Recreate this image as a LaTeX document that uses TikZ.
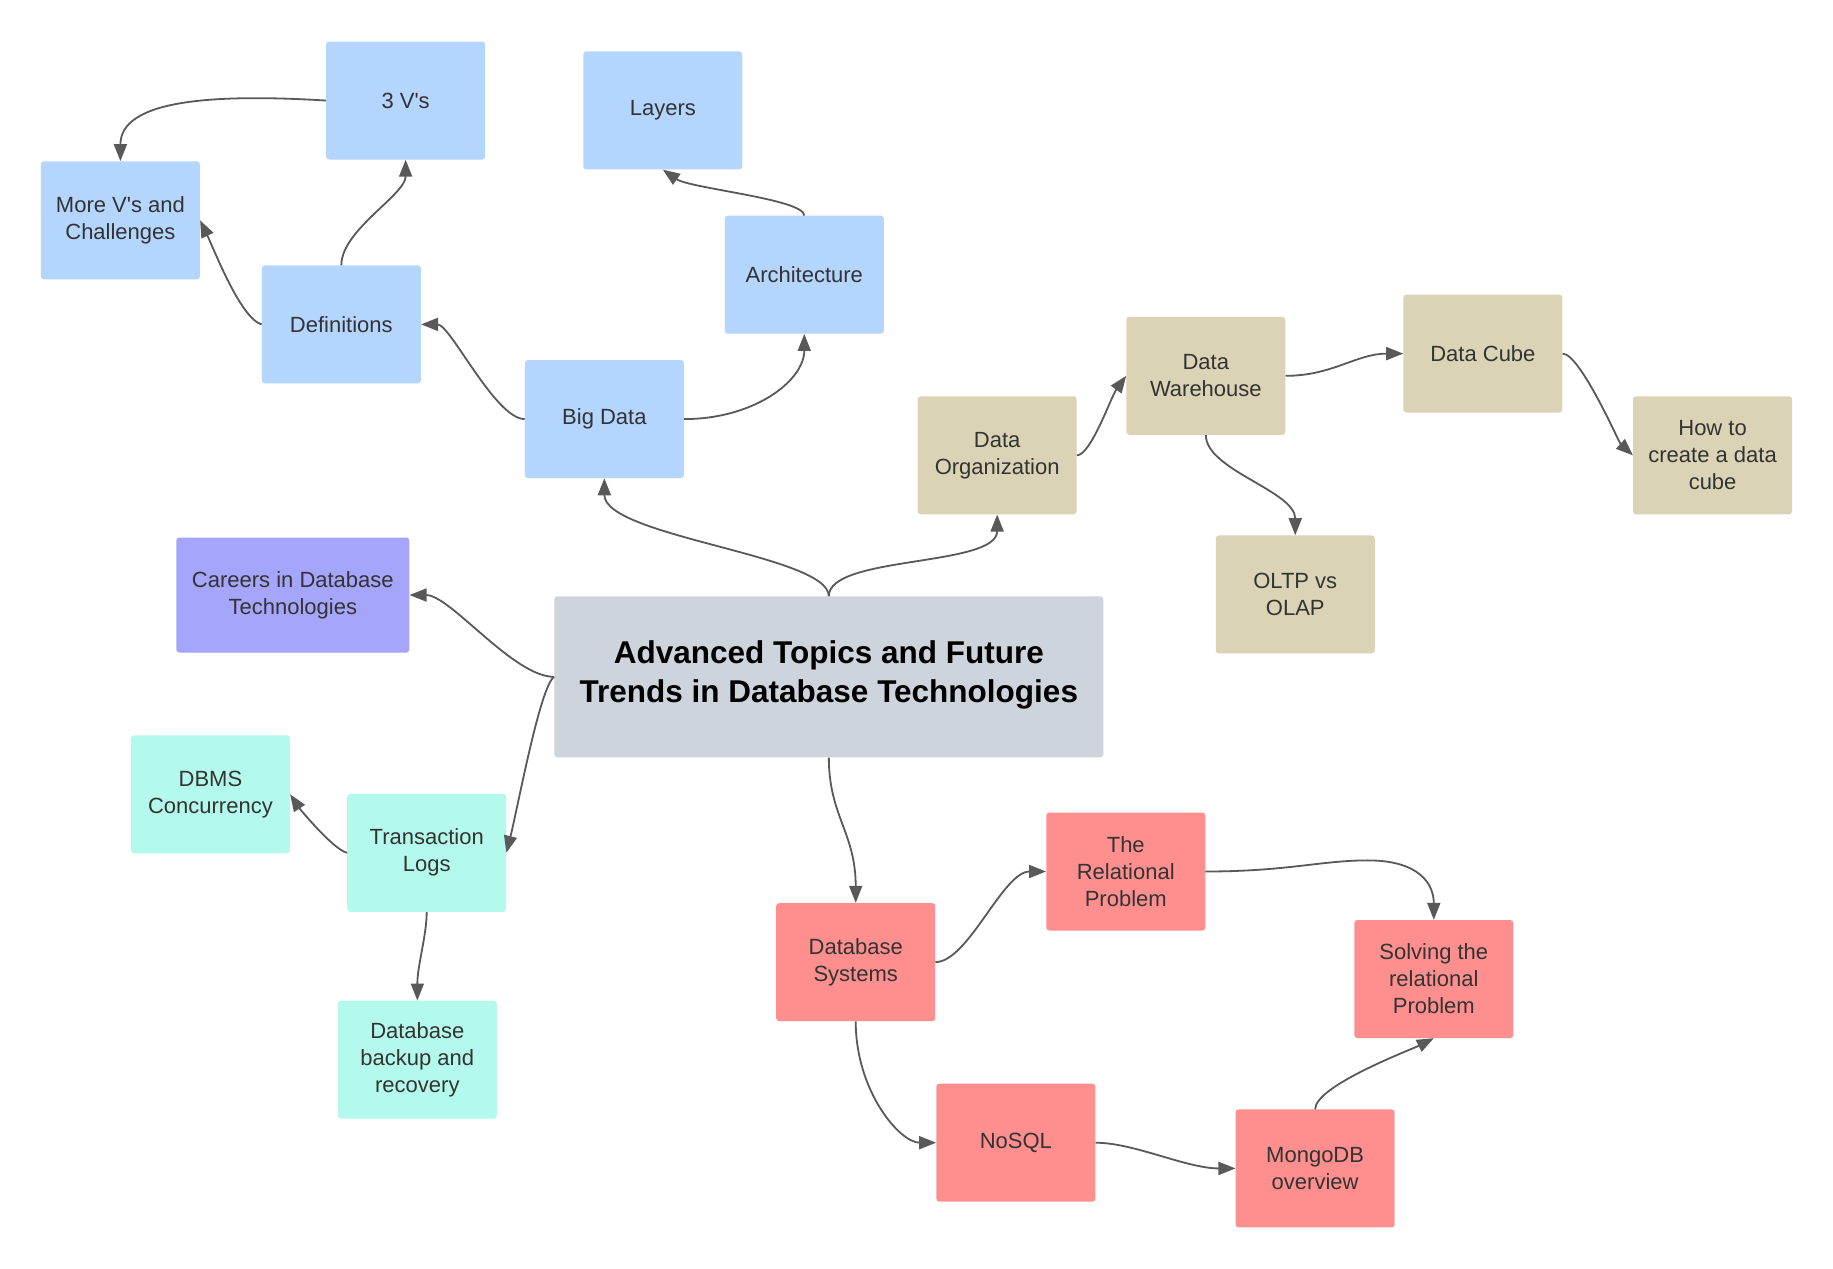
\documentclass[tikz,border=0pt]{standalone}
\usepackage{fontspec}
\setmainfont{Liberation Sans}
\usetikzlibrary{arrows.meta}
\definecolor{cblue}{HTML}{B4D5FE}
\definecolor{ctan}{HTML}{DAD3B5}
\definecolor{cpurple}{HTML}{A4A5FB}
\definecolor{cmint}{HTML}{B4FAEC}
\definecolor{cred}{HTML}{FF8F8F}
\definecolor{cgray}{HTML}{CED4DC}
\definecolor{textc}{HTML}{333333}
\definecolor{linec}{HTML}{595959}
\begin{document}
\begin{tikzpicture}[x=1.169pt,y=-1.169pt,
  box/.style={rounded corners=3pt, minimum width=159pt, minimum height=118pt, inner sep=0pt, align=center, text=textc, font=\fontsize{22}{27}\selectfont},
  conn/.style={draw=linec, line width=1.8pt, -{Triangle[length=17pt,width=13pt]}}]
\useasboundingbox (0,0) rectangle (1568,1085);
\fill[white] (0,0) rectangle (1568,1085);

\node[box, fill=cblue] (v3) at (347,86) {3 V\textquotesingle s};
\node[box, fill=cblue] (layers) at (567,94.5) {Layers};
\node[box, fill=cblue] (morev) at (103,188.5) {More V\textquotesingle s and\\Challenges};
\node[box, fill=cblue] (defs) at (292,277.5) {Definitions};
\node[box, fill=cblue] (arch) at (688,235) {Architecture};
\node[box, fill=cblue] (bigdata) at (517,358.5) {Big Data};
\node[box, fill=ctan] (dorg) at (853,389.5) {Data\\Organization};
\node[box, fill=ctan] (dw) at (1031.5,321.5) {Data\\Warehouse};
\node[box, fill=ctan] (cube) at (1268.5,302.5) {Data Cube};
\node[box, fill=ctan] (howto) at (1465,389.5) {How to\\create a data\\cube};
\node[box, fill=ctan] (oltp) at (1108,508.5) {OLTP vs\\OLAP};
\node[box, fill=cpurple, minimum width=233pt, minimum height=115pt] (careers) at (250.5,509) {Careers in Database\\Technologies};
\node[box, fill=cgray, minimum width=549pt, minimum height=161pt, text depth=11pt, text=black, font=\bfseries\fontsize{31.5}{38.6}\selectfont] (central) at (709,579) {Advanced Topics and Future\\Trends in Database Technologies};
\node[box, fill=cmint] (dbms) at (180,679.5) {DBMS\\Concurrency};
\node[box, fill=cmint] (tlogs) at (365,729.5) {Transaction\\Logs};
\node[box, fill=cmint] (backup) at (357,906.5) {Database\\backup and\\recovery};
\node[box, fill=cred] (dbsys) at (732,823) {Database\\Systems};
\node[box, fill=cred] (rel) at (963,745.5) {The\\Relational\\Problem};
\node[box, fill=cred] (solving) at (1226.5,837.5) {Solving the\\relational\\Problem};
\node[box, fill=cred] (nosql) at (869,977.5) {NoSQL};
\node[box, fill=cred] (mongo) at (1125,999.5) {MongoDB\\overview};

\coordinate (relmid) at (1170,736);

\draw[conn] (central.north) .. controls +(0,-35) and +(0,50) .. (bigdata.south);
\draw[conn] (central.north) .. controls +(0,-35) and +(0,45) .. (dorg.south);
\draw[conn] (central.west) .. controls +(-35,0) and +(35,0) .. (careers.east);
\draw[conn] (central.west) .. controls +(-12,8) and +(10,-40) .. (tlogs.east);
\draw[conn] (central.south) .. controls +(0,50) and +(0,-60) .. (dbsys.north);
\draw[conn] (bigdata.west) .. controls +(-25,0) and +(25,0) .. (defs.east);
\draw[conn] (bigdata.east) .. controls +(60,0) and +(0,40) .. (arch.south);
\draw[conn] (defs.west) .. controls +(-18,-5) and +(12,25) .. (morev.east);
\draw[conn] (defs.north) .. controls +(0,-30) and +(0,30) .. (v3.south);
\draw[conn] (v3.west) .. controls +(-99,-6) and +(0,-52) .. (morev.north);
\draw[conn] (arch.north) .. controls +(0,-14) and +(23,16) .. (layers.south);
\draw[conn] (dorg.east) .. controls +(12,0) and +(-13,18) .. (dw.west);
\draw[conn] (dw.east) .. controls +(40,0) and +(-40,0) .. (cube.west);
\draw[conn] (cube.east) .. controls +(15,0) and +(-12,-11) .. (howto.west);
\draw[conn] (dw.south) .. controls +(0,30) and +(0,-38) .. (oltp.north);
\draw[conn] (tlogs.west) .. controls +(-12,-3) and +(8,12) .. (dbms.east);
\draw[conn] (tlogs.south) .. controls +(0,20) and +(0,-30) .. (backup.north);
\draw[conn] (dbsys.east) .. controls +(28,0) and +(-37,0) .. (rel.west);
\draw[conn] (dbsys.south) .. controls +(0,60) and +(-31,0) .. (nosql.west);
\draw[conn] (rel.east) .. controls +(70,0) and +(-40,0) .. (relmid) .. controls +(45,0) and +(0,-30) .. (solving.north);
\draw[conn] (nosql.east) .. controls +(33,0) and +(-42,0) .. (mongo.west);
\draw[conn] (mongo.north) .. controls +(0,-20) and +(-20,10) .. (solving.south);
\end{tikzpicture}
\end{document}
